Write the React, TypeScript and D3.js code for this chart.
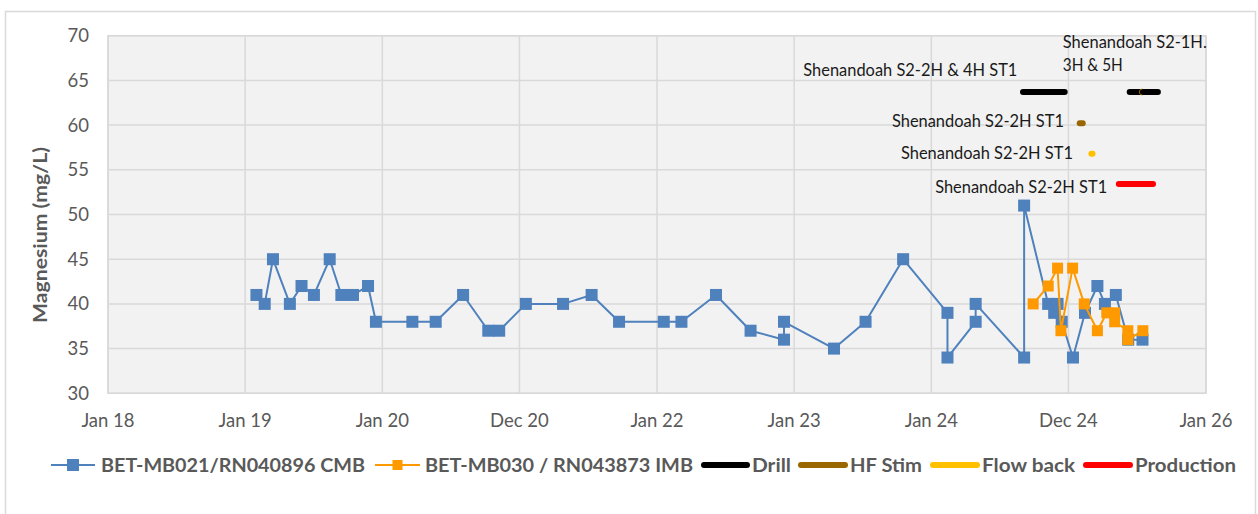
import React from "react";
import * as d3 from "d3";

// ---------- data ----------
const tickDates = ["2018-01-01", "2019-01-01", "2020-01-01", "2020-12-31", "2022-01-01", "2023-01-01", "2024-01-01", "2024-12-31", "2026-01-01"];
const tickLabels = ["Jan 18", "Jan 19", "Jan 20", "Dec 20", "Jan 22", "Jan 23", "Jan 24", "Dec 24", "Jan 26"];
const yTicks = [30, 35, 40, 45, 50, 55, 60, 65, 70];

const cmbName = "BET-MB021/RN040896 CMB";
const cmbDates = [
  "2019-01-31", "2019-02-22", "2019-03-16", "2019-04-30", "2019-05-31", "2019-07-03", "2019-08-14", "2019-09-14",
  "2019-10-15", "2019-11-24", "2019-12-15", "2020-03-21", "2020-05-22", "2020-08-03", "2020-10-09", "2020-11-07",
  "2021-01-17", "2021-04-26", "2021-07-11", "2021-09-22", "2022-01-19", "2022-03-07", "2022-06-07", "2022-09-07",
  "2022-12-05", "2022-12-05", "2023-04-17", "2023-07-10", "2023-10-18", "2024-02-13", "2024-02-13", "2024-04-28",
  "2024-04-28", "2024-09-04", "2024-09-04", "2024-11-07", "2024-11-23", "2024-12-02", "2024-12-13", "2025-01-12",
  "2025-02-13", "2025-03-18", "2025-04-07", "2025-05-06", "2025-06-08", "2025-07-16",
];
const cmbValues = [
  41, 40, 45, 40, 42, 41, 45, 41,
  41, 42, 38, 38, 38, 41, 37, 37,
  40, 40, 41, 38, 38, 38, 41, 37,
  36, 38, 35, 38, 45, 39, 34, 38,
  40, 34, 51, 40, 39, 40, 38, 34,
  39, 42, 40, 41, 36, 36,
];

const imbName = "BET-MB030 / RN043873 IMB";
const imbDates = [
  "2024-09-28", "2024-11-07", "2024-12-02", "2024-12-11", "2025-01-11", "2025-02-11", "2025-03-18",
  "2025-04-12", "2025-05-03", "2025-05-03", "2025-06-07", "2025-06-07", "2025-07-17",
];
const imbValues = [40, 42, 44, 37, 44, 40, 37, 39, 39, 38, 37, 36, 37];

// activity timeline (start, end) and level on the y axis
const drillStart = ["2024-09-01", "2025-06-12"];
const drillEnd = ["2024-12-21", "2025-08-26"];
const drillLevel = 63.7;
const hfStart = ["2025-01-30"];
const hfEnd = ["2025-02-07"];
const hfLevel = 60.2;
const hfMarkDate = "2025-07-13";
const flowStart = ["2025-03-02"];
const flowEnd = ["2025-03-05"];
const flowLevel = 56.8;
const prodStart = ["2025-05-14"];
const prodEnd = ["2025-08-13"];
const prodLevel = 53.4;

const annoTexts = [
  "Shenandoah S2-2H & 4H ST1",
  "Shenandoah S2-1H.",
  "3H & 5H",
  "Shenandoah S2-2H ST1",
  "Shenandoah S2-2H ST1",
  "Shenandoah S2-2H ST1",
];
const annoDates = ["2024-08-17", "2024-12-16", "2024-12-16", "2024-12-19", "2025-01-12", "2025-04-13"];
const annoValues = [66.15, 69.3, 66.7, 60.45, 56.9, 53.1];
const annoAnchors = ["end", "start", "start", "end", "end", "end"];
const annoWidths = [214, 144, 60, 172, 172, 172];

const legendNames = [cmbName, imbName, "Drill", "HF Stim", "Flow back", "Production"];

// ---------- styles ----------
const C_BLUE = "#4F81BD";
const C_ORANGE = "#FF9900";
const C_DRILL = "#000000";
const C_HF = "#996600";
const C_FLOW = "#FFC000";
const C_PROD = "#FF0000";
const TEXT = "#595959";
const GRID = "#D9D9D9";
const FONT = "Lato, 'Open Sans', sans-serif";

const W = 1258;
const H = 514;
const M = { left: 108, right: 1206, top: 35.7, bottom: 393.3 };

const parse = d3.utcParse("%Y-%m-%d");

export default function App() {
  const x = d3
    .scaleUtc()
    .domain([parse("2018-01-01")!, parse("2026-01-01")!])
    .range([M.left, M.right]);
  const y = d3.scaleLinear().domain([30, 70]).range([M.bottom, M.top]);

  const line = d3
    .line<[Date, number]>()
    .x((d) => x(d[0]))
    .y((d) => y(d[1]));

  const cmb: [Date, number][] = cmbDates.map((d, i) => [parse(d)!, cmbValues[i]]);
  const imb: [Date, number][] = imbDates.map((d, i) => [parse(d)!, imbValues[i]]);

  const bars = (starts: string[], ends: string[], level: number, color: string, key: string) =>
    starts.map((s, i) => (
      <line
        key={key + i}
        x1={x(parse(s)!)}
        x2={x(parse(ends[i])!)}
        y1={y(level)}
        y2={y(level)}
        stroke={color}
        strokeWidth={6}
        strokeLinecap="round"
      />
    ));

  // legend layout
  const legendY = 465;
  const legendItems = [
    { lx: 51, lw: 44, color: C_BLUE, marker: 12, tx: 101, tw: 264, sw: 2 },
    { lx: 375, lw: 45, color: C_ORANGE, marker: 10, tx: 425, tw: 268, sw: 2 },
    { lx: 704, lw: 43, color: C_DRILL, marker: 0, tx: 752, tw: 39, sw: 6 },
    { lx: 801, lw: 44, color: C_HF, marker: 0, tx: 850, tw: 72, sw: 6 },
    { lx: 933, lw: 44, color: C_FLOW, marker: 0, tx: 982, tw: 93, sw: 6 },
    { lx: 1086, lw: 44, color: C_PROD, marker: 0, tx: 1135, tw: 101, sw: 6 },
  ];

  const hfMarkX = x(parse(hfMarkDate)!);

  return (
    <svg
      width={W}
      height={H}
      style={{ position: "absolute", left: 0, top: 0, background: "#fff" }}
      fontFamily={FONT}
    >
      <rect x={0} y={0} width={W} height={H} fill="#fff" />
      <rect x={5.5} y={11.5} width={1250} height={520} fill="#fff" stroke={GRID} strokeWidth={1.5} />

      {/* plot area */}
      <rect x={M.left} y={M.top} width={M.right - M.left} height={M.bottom - M.top} fill="#F2F2F2" />
      {yTicks.map((t) => (
        <line key={"gy" + t} x1={M.left} x2={M.right} y1={y(t)} y2={y(t)} stroke={GRID} strokeWidth={1.5} />
      ))}
      {tickDates.map((t) => (
        <line
          key={"gx" + t}
          x1={x(parse(t)!)}
          x2={x(parse(t)!)}
          y1={M.top}
          y2={M.bottom}
          stroke={GRID}
          strokeWidth={1.5}
        />
      ))}
      <rect
        x={M.left}
        y={M.top}
        width={M.right - M.left}
        height={M.bottom - M.top}
        fill="none"
        stroke={GRID}
        strokeWidth={1.5}
      />

      {/* y tick labels */}
      {yTicks.map((t) => (
        <text key={"ty" + t} x={89} y={y(t)} dy="0.35em" textAnchor="end" fontSize={18.5} fill={TEXT}>
          {t}
        </text>
      ))}
      {/* x tick labels */}
      {tickDates.map((t, i) => (
        <text key={"tx" + t} x={x(parse(t)!)} y={420.5} dy="0.35em" textAnchor="middle" fontSize={18.5} fill={TEXT}>
          {tickLabels[i]}
        </text>
      ))}
      {/* y title */}
      <text
        transform={`translate(41,235) rotate(-90)`}
        textAnchor="middle"
        dy="0.35em"
        fontSize={18.5}
        fontWeight="bold"
        fill={TEXT}
        textLength={176}
        lengthAdjust="spacingAndGlyphs"
      >
        Magnesium (mg/L)
      </text>

      {/* timeline bars */}
      {bars(drillStart, drillEnd, drillLevel, C_DRILL, "dr")}
      <path
        d={`M${hfMarkX + 1},${y(drillLevel) - 3} A3,3 0 0 0 ${hfMarkX + 1},${y(drillLevel) + 3}`}
        fill="none"
        stroke={C_HF}
        strokeWidth={1}
      />
      {bars(hfStart, hfEnd, hfLevel, C_HF, "hf")}
      {bars(flowStart, flowEnd, flowLevel, C_FLOW, "fb")}
      {bars(prodStart, prodEnd, prodLevel, C_PROD, "pr")}

      {/* annotations */}
      {annoTexts.map((t, i) => (
        <text
          key={"an" + i}
          x={x(parse(annoDates[i])!)}
          y={y(annoValues[i])}
          dy="0.35em"
          textAnchor={annoAnchors[i] as any}
          fontSize={16.5}
          fill="#1a1a1a"
          textLength={annoWidths[i]}
          lengthAdjust="spacingAndGlyphs"
        >
          {t}
        </text>
      ))}

      {/* CMB series */}
      <path d={line(cmb) || ""} fill="none" stroke={C_BLUE} strokeWidth={2} strokeLinejoin="round" />
      {cmb.map((d, i) => (
        <rect key={"cm" + i} x={x(d[0]) - 6} y={y(d[1]) - 6} width={12} height={12} fill={C_BLUE} />
      ))}

      {/* IMB series */}
      <path d={line(imb) || ""} fill="none" stroke={C_ORANGE} strokeWidth={2} strokeLinejoin="round" />
      {imb.map((d, i) => (
        <rect key={"im" + i} x={x(d[0]) - 5.5} y={y(d[1]) - 5.5} width={11} height={11} fill={C_ORANGE} />
      ))}

      {/* legend */}
      {legendItems.map((it, i) => (
        <g key={"lg" + i}>
          <line
            x1={it.lx}
            x2={it.lx + it.lw}
            y1={legendY}
            y2={legendY}
            stroke={it.color}
            strokeWidth={it.sw}
            strokeLinecap={it.marker ? "butt" : "round"}
          />
          {it.marker > 0 && (
            <rect
              x={it.lx + it.lw / 2 - it.marker / 2}
              y={legendY - it.marker / 2}
              width={it.marker}
              height={it.marker}
              fill={it.color}
            />
          )}
          <text
            x={it.tx}
            y={legendY}
            dy="0.35em"
            fontSize={19.5}
            fontWeight="bold"
            fill={TEXT}
            textLength={it.tw}
            lengthAdjust="spacingAndGlyphs"
          >
            {legendNames[i]}
          </text>
        </g>
      ))}
    </svg>
  );
}
